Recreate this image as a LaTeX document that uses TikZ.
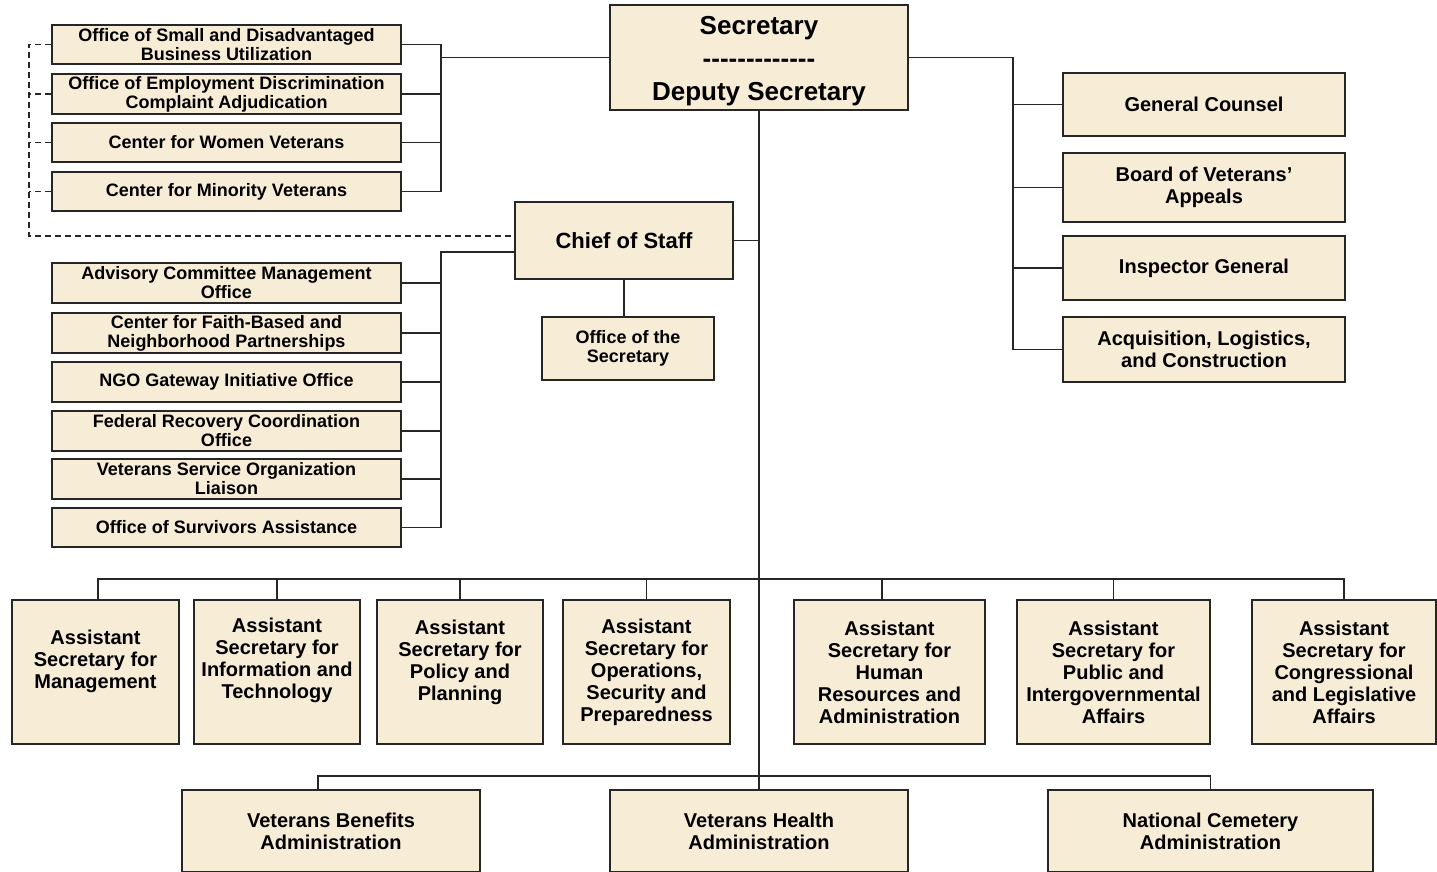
\documentclass[tikz,border=0pt]{standalone}
\usepackage{fontspec}
\setmainfont{Liberation Sans}
\usetikzlibrary{calc}
\definecolor{parch}{HTML}{F7ECD6}
\definecolor{ink}{HTML}{262626}
\newcommand{\hy}{-\kern0pt}
\tikzset{
  box/.style={draw=ink, line width=1.8pt, fill=parch, inner sep=0pt, align=center, text=black},
  small/.style={font=\bfseries\fontsize{18}{19}\selectfont},
  mid/.style={font=\bfseries\fontsize{20}{22}\selectfont},
  txt/.style={inner sep=0pt, align=center, text=black, font=\bfseries\fontsize{20}{22}\selectfont},
  conn/.style={draw=ink, line width=1.5pt},
  dconn/.style={draw=ink, line width=1.3pt, dash pattern=on 6pt off 4pt}
}
\begin{document}
\begin{tikzpicture}[x=1pt,y=-1pt]
\useasboundingbox[fill=white] (0,0) rectangle (1437,871);

% Secretary
\node[box, minimum width=298pt, minimum height=105pt] (sec) at (759,57.5) {};
\node[txt, font=\bfseries\fontsize{26}{33}\selectfont] (secT) at ($(sec.center)+(0,3.5)$) {Secretary\\\hy\hy\hy\hy\hy\hy\hy\hy\hy\hy\hy\hy-\\Deputy Secretary};

% top-left group
\node[box, small, minimum width=349pt, minimum height=39pt] (osdbu) at (226.5,44.5) {Office of Small and Disadvantaged\\Business Utilization};
\node[box, small, minimum width=349pt, minimum height=40pt] (oedca) at (226.5,94) {Office of Employment Discrimination\\Complaint Adjudication};
\node[box, small, minimum width=349pt, minimum height=39pt] (cwv) at (226.5,142.5) {Center for Women Veterans};
\node[box, small, minimum width=349pt, minimum height=39pt] (cmv) at (226.5,191.5) {Center for Minority Veterans};

% Chief of staff
\node[box, minimum width=218pt, minimum height=77pt, font=\bfseries\fontsize{22}{26}\selectfont] (cos) at (624,240.5) {Chief of Staff};
\node[box, small, minimum width=172pt, minimum height=63pt] (ots) at (628,348.5) {Office of the\\Secretary};

% second left group
\node[box, small, minimum width=349pt, minimum height=40pt] (adv) at (226.5,283) {Advisory Committee Management\\Office};
\node[box, small, minimum width=349pt, minimum height=40pt] (faith) at (226.5,333) {Center for Faith-Based and\\Neighborhood Partnerships};
\node[box, small, minimum width=349pt, minimum height=40pt] (ngo) at (226.5,382) {NGO Gateway Initiative Office};
\node[box, small, minimum width=349pt, minimum height=40pt] (frc) at (226.5,431) {Federal Recovery Coordination\\Office};
\node[box, small, minimum width=349pt, minimum height=40pt] (vso) at (226.5,479) {Veterans Service Organization\\Liaison};
\node[box, small, minimum width=349pt, minimum height=39pt] (osa) at (226.5,527.5) {Office of Survivors Assistance};

% right group
\node[box, mid, minimum width=282pt, minimum height=63pt] (gc) at (1204,104.5) {General Counsel};
\node[box, mid, minimum width=282pt, minimum height=69pt] (bva) at (1204,187.5) {Board of Veterans'\\Appeals};
\node[box, mid, minimum width=282pt, minimum height=64pt] (ig) at (1204,268) {Inspector General};
\node[box, mid, minimum width=282pt, minimum height=65pt] (alc) at (1204,349.5) {Acquisition, Logistics,\\and Construction};

% assistant secretaries
\node[box, minimum width=167pt, minimum height=144pt] (mgmt) at (95.5,672) {};
\node[box, minimum width=166pt, minimum height=144pt] (it) at (277,672) {};
\node[box, minimum width=166pt, minimum height=144pt] (pol) at (460,672) {};
\node[box, minimum width=167pt, minimum height=144pt] (ops) at (646.5,672) {};
\node[box, minimum width=191pt, minimum height=144pt] (hr) at (889.5,672) {};
\node[box, minimum width=193pt, minimum height=144pt] (pub) at (1113.5,672) {};
\node[box, minimum width=184pt, minimum height=144pt] (cong) at (1344,672) {};
\node[txt] (mgmtT) at ($(mgmt.center)+(0,-11)$) {Assistant\\Secretary for\\Management};
\node[txt] (itT) at ($(it.center)+(0,-12)$) {Assistant\\Secretary for\\Information and\\Technology};
\node[txt] (polT) at ($(pol.center)+(0,-10)$) {Assistant\\Secretary for\\Policy and\\Planning};
\node[txt] (opsT) at (ops.center) {Assistant\\Secretary for\\Operations,\\Security and\\Preparedness};
\node[txt] (hrT) at (hr.center) {Assistant\\Secretary for\\Human\\Resources and\\Administration};
\node[txt] (pubT) at (pub.center) {Assistant\\Secretary for\\Public and\\Intergovernmental\\Affairs};
\node[txt] (congT) at (cong.center) {Assistant\\Secretary for\\Congressional\\and Legislative\\Affairs};

% administrations
\node[box, mid, minimum width=298pt, minimum height=82pt] (vba) at (331,831) {Veterans Benefits\\Administration};
\node[box, mid, minimum width=298pt, minimum height=82pt] (vha) at (759,831) {Veterans Health\\Administration};
\node[box, mid, minimum width=325pt, minimum height=82pt] (nca) at (1210.5,831) {National Cemetery\\Administration};

% ---- connectors ----
% top-left bracket
\coordinate (b1) at (441,57.5);
\draw[conn] (sec.west) -- (b1);
\draw[conn] (osdbu.east) -| (b1);
\draw[conn] (oedca.east) -- (oedca.east -| b1);
\draw[conn] (cwv.east) -- (cwv.east -| b1);
\draw[conn] (cmv.east) -| (b1);

% dashed line
\coordinate (dl) at (29,236);
\draw[dconn] (osdbu.west) -| (dl) -- (dl -| cos.west);
\draw[dconn] (oedca.west) -- (oedca.west -| dl);
\draw[dconn] (cwv.west) -- (cwv.west -| dl);
\draw[dconn] (cmv.west) -- (cmv.west -| dl);

% second bracket
\coordinate (b2) at (441,252);
\draw[conn] (b2 -| cos.west) -- (b2) |- (osa.east);
\draw[conn] (adv.east) -- (adv.east -| b2);
\draw[conn] (faith.east) -- (faith.east -| b2);
\draw[conn] (ngo.east) -- (ngo.east -| b2);
\draw[conn] (frc.east) -- (frc.east -| b2);
\draw[conn] (vso.east) -- (vso.east -| b2);

% chief of staff
\coordinate (trunkbot) at (759,776);
\draw[conn] (sec.south) -- (trunkbot);
\draw[conn] (cos.east) -- (cos.east -| sec.south);
\draw[conn] (cos.south) -- (cos.south |- ots.north);

% right bracket
\coordinate (b3) at (1013,57.5);
\draw[conn] (sec.east) -- (b3) |- (alc.west);
\draw[conn] (gc.west) -- (gc.west -| b3);
\draw[conn] (bva.west) -- (bva.west -| b3);
\draw[conn] (ig.west) -- (ig.west -| b3);

% assistant bus
\coordinate (bus1) at (0,579);
\coordinate (mgmtD) at ($(mgmt.north)+(2.5,0)$);
\coordinate (hrD) at ($(hr.north)+(-7.5,0)$);
\draw[conn] (mgmtD) |- (bus1 -| cong.north) -- (cong.north);
\draw[conn] (it.north) -- (it.north |- bus1);
\draw[conn] (pol.north) -- (pol.north |- bus1);
\draw[conn] (ops.north) -- (ops.north |- bus1);
\draw[conn] (hrD) -- (hrD |- bus1);
\draw[conn] (pub.north) -- (pub.north |- bus1);

% administration bus
\coordinate (vbaD) at ($(vba.north)+(-13,0)$);
\draw[conn] (vbaD) |- (trunkbot) -| (nca.north);
\draw[conn] (trunkbot) -- (vha.north);
\end{tikzpicture}
\end{document}
